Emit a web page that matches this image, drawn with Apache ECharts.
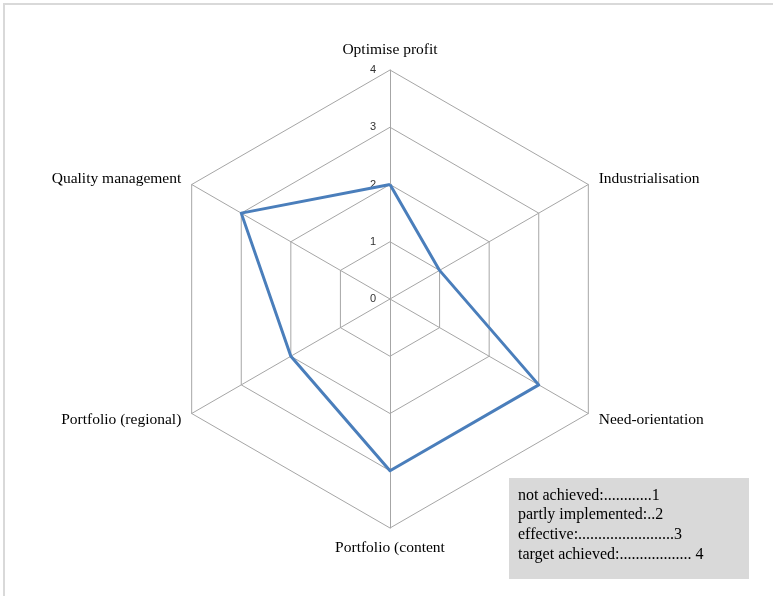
<!DOCTYPE html>
<html>
<head>
<meta charset="utf-8">
<script src="https://cdn.jsdelivr.net/npm/echarts@6/dist/echarts.min.js"></script>
<style>
  html, body { margin: 0; padding: 0; background: #ffffff; }
  #chart { width: 773px; height: 596px; }
</style>
</head>
<body>
<div id="chart"></div>
<script>
// Radar axes, listed counter-clockwise from the top (ECharts' placement order)
const categories = [
  'Optimise profit',
  'Quality management',
  'Portfolio (regional)',
  'Portfolio (content',
  'Need-orientation',
  'Industrialisation'
];
const scores = [2, 3, 2, 3, 3, 1];
const scaleMax = 4;
const scaleSteps = 4;

// Scale key shown in the grey box
const keyLines = [
  'not achieved:............1',
  'partly implemented:..2',
  'effective:........................3',
  'target achieved:.................. 4'
];

const serif = '"Liberation Serif", "DejaVu Serif", serif';
const chart = echarts.init(document.getElementById('chart'));

chart.setOption({
  backgroundColor: '#ffffff',
  animation: false,
  radar: {
    center: [390, 299],
    radius: 229,
    startAngle: 90,
    splitNumber: scaleSteps,
    shape: 'polygon',
    nameGap: 12,
    // only the vertical axis carries the 0..4 scale labels
    indicator: categories.map(function (name, i) {
      return { name: name, min: 0, max: scaleMax, axisLabel: { show: i === 0 } };
    }),
    axisName: {
      color: '#000000',
      fontFamily: serif,
      fontSize: 15.5
    },
    axisLine: { lineStyle: { color: '#a6a6a6', width: 1 } },
    splitLine: { lineStyle: { color: '#a6a6a6', width: 1 } },
    splitArea: { show: false },
    axisTick: { show: false },
    axisLabel: {
      show: false,
      color: '#333333',
      fontFamily: '"Liberation Sans", Arial, sans-serif',
      fontSize: 11,
      margin: 14
    }
  },
  series: [{
    type: 'radar',
    symbol: 'none',
    lineStyle: { color: '#4a7ebb', width: 3 },
    data: [{ value: scores }]
  }],
  graphic: [
    {
      type: 'rect',
      shape: { x: 4, y: 4, width: 800, height: 700 },
      style: { fill: 'none', stroke: '#d9d9d9', lineWidth: 2 },
      silent: true
    },
    {
      type: 'rect',
      shape: { x: 509, y: 478, width: 240, height: 101 },
      style: { fill: '#d9d9d9', stroke: 'none' },
      silent: true
    }
  ].concat(keyLines.map(function (line, i) {
    return {
      type: 'text',
      left: 518,
      top: 487.5 + i * 19.7,
      style: {
        text: line,
        fill: '#000000',
        font: '16px ' + serif
      },
      silent: true
    };
  }))
});
</script>
</body>
</html>
